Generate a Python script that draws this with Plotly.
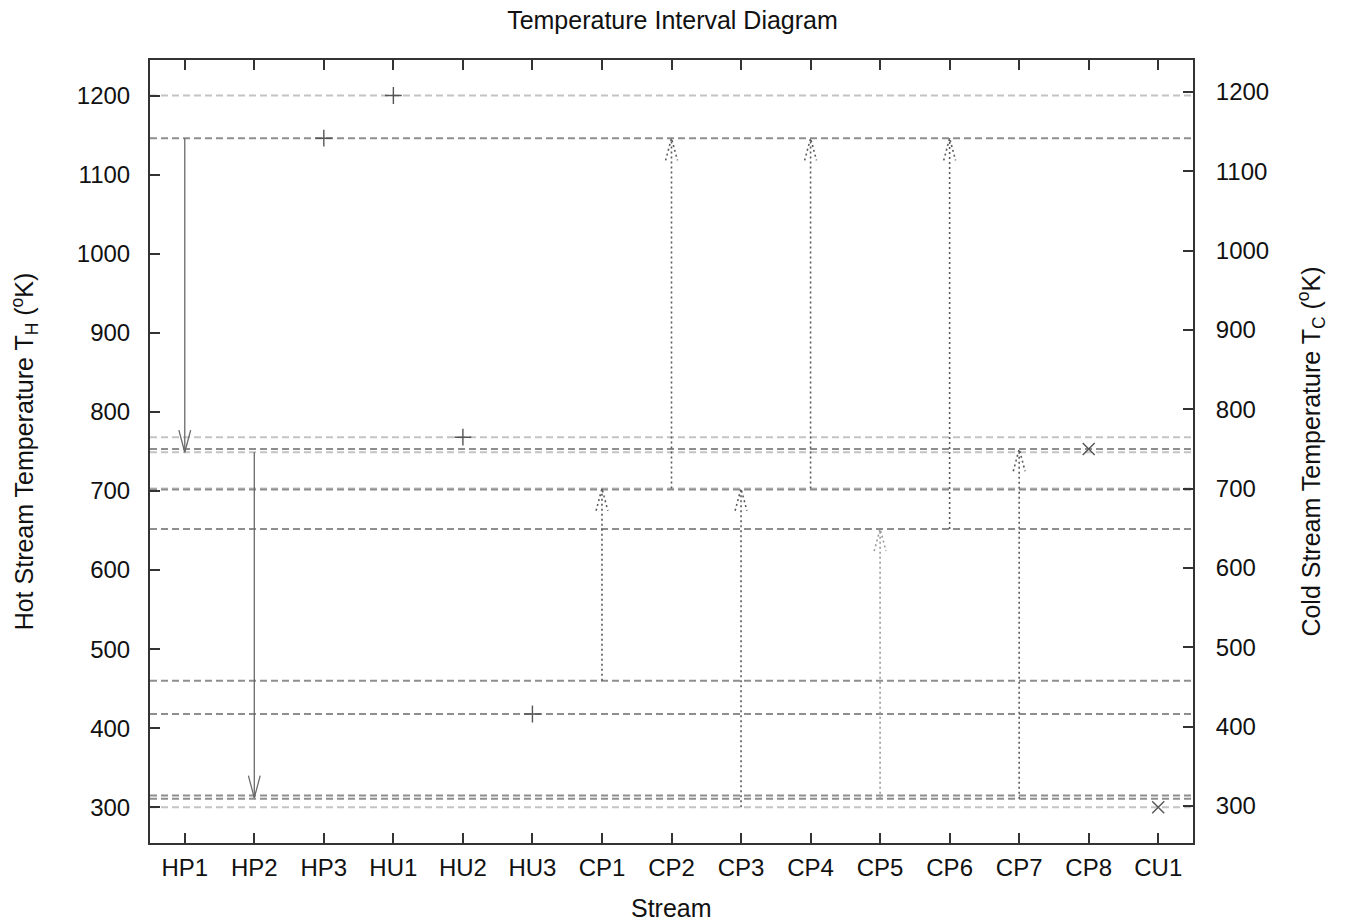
import plotly.graph_objects as go

# ---------------- data ----------------
streams = ["HP1", "HP2", "HP3", "HU1", "HU2", "HU3", "CP1", "CP2",
           "CP3", "CP4", "CP5", "CP6", "CP7", "CP8", "CU1"]

# hot streams drawn as downward arrows (supply -> target)
hot_arrow_streams = ["HP1", "HP2"]
hot_arrow_from = [1146, 749]
hot_arrow_to = [749, 312]

# hot single-temperature streams (+ markers)
hot_point_streams = ["HP3", "HU1", "HU2", "HU3"]
hot_point_temps = [1146, 1200, 768, 418]

# cold streams drawn as upward dotted arrows
cold_arrow_streams = ["CP1", "CP2", "CP3", "CP4", "CP5", "CP6", "CP7"]
cold_arrow_from = [460, 703, 300, 703, 311, 652, 311]
cold_arrow_to = [703, 1146, 703, 1146, 652, 1146, 753]
cold_arrow_light = [False, False, False, False, True, False, False]

# cold single-temperature streams (x markers)
cold_point_streams = ["CP8", "CU1"]
cold_point_temps = [753, 300]

# temperature interval boundaries
interval_light = [1200, 768, 749, 703, 300]
interval_dark = [1146, 753, 702, 652, 460, 418, 315, 311]

ticks_T = [300, 400, 500, 600, 700, 800, 900, 1000, 1100, 1200]

# ---------------- styling constants ----------------
FONT = "Liberation Sans, Arial, sans-serif"
FS = 24
FT = 25
XMIN, XMAX = -0.5, len(streams) - 0.5
HEAD_DX = 0.085   # half width of arrow heads in category units
HEAD_DY = 28      # arrow head length in temperature units

idx = {s: i for i, s in enumerate(streams)}
fig = go.Figure()


def hlines(vals, color):
    xs, ys = [], []
    for v in vals:
        xs += [XMIN, XMAX, None]
        ys += [v, v, None]
    fig.add_trace(go.Scatter(x=xs, y=ys, mode="lines", hoverinfo="skip",
                             line=dict(color=color, width=2, dash="7px,4px"),
                             showlegend=False))


hlines(interval_light, "#c4c4c4")
hlines(interval_dark, "#8e8e8e")


def arrows(names, y0s, y1s, color, dash, width):
    xs, ys, hx, hy = [], [], [], []
    for n, a, b in zip(names, y0s, y1s):
        x = idx[n]
        xs += [x, x, None]
        ys += [a, b, None]
        d = HEAD_DY if b < a else -HEAD_DY
        hx += [x - HEAD_DX, x, x + HEAD_DX, None]
        hy += [b + d, b, b + d, None]
    fig.add_trace(go.Scatter(x=xs, y=ys, mode="lines", hoverinfo="skip",
                             line=dict(color=color, width=width, dash=dash),
                             showlegend=False))
    fig.add_trace(go.Scatter(x=hx, y=hy, mode="lines", hoverinfo="skip",
                             line=dict(color=color, width=width, dash=dash),
                             showlegend=False))


arrows(hot_arrow_streams, hot_arrow_from, hot_arrow_to, "#6a6a6a", "solid", 1.3)

dark_c = [(n, a, b) for n, a, b, l in zip(cold_arrow_streams, cold_arrow_from,
                                         cold_arrow_to, cold_arrow_light) if not l]
light_c = [(n, a, b) for n, a, b, l in zip(cold_arrow_streams, cold_arrow_from,
                                          cold_arrow_to, cold_arrow_light) if l]
arrows([c[0] for c in dark_c], [c[1] for c in dark_c], [c[2] for c in dark_c],
       "#5a5a5a", "2px,3px", 1.6)
arrows([c[0] for c in light_c], [c[1] for c in light_c], [c[2] for c in light_c],
       "#9a9a9a", "2px,3px", 1.6)

fig.add_trace(go.Scatter(x=[idx[s] for s in hot_point_streams], y=hot_point_temps,
                         mode="markers", hoverinfo="skip", showlegend=False,
                         marker=dict(symbol="cross-thin-open", size=12, color="#555555",
                                     line=dict(color="#555555", width=1.4))))
fig.add_trace(go.Scatter(x=[idx[s] for s in cold_point_streams], y=cold_point_temps,
                         mode="markers", hoverinfo="skip", showlegend=False,
                         marker=dict(symbol="x-thin-open", size=12, color="#555555",
                                     line=dict(color="#555555", width=1.4))))

# dummy trace to activate the right-hand (cold) axis
fig.add_trace(go.Scatter(x=[0], y=[300], yaxis="y2", mode="markers",
                         marker=dict(opacity=0), hoverinfo="skip", showlegend=False))

axis_common = dict(ticks="inside", ticklen=10, tickwidth=2, tickcolor="#333333",
                   showline=True, linecolor="#333333", linewidth=2,
                   showgrid=False, zeroline=False,
                   tickfont=dict(family=FONT, size=FS, color="#111111"))

fig.update_layout(
    width=1345, height=922,
    margin=dict(l=150, r=152, t=60, b=79),
    plot_bgcolor="white", paper_bgcolor="white",
    font=dict(family=FONT, size=FS, color="#111111"),
    title=dict(text="Temperature Interval Diagram", x=0.5, xanchor="center",
               y=0.978, yanchor="middle",
               font=dict(family=FONT, size=FT, color="#111111")),
    xaxis=dict(range=[XMIN, XMAX], tickvals=list(range(len(streams))),
               ticktext=streams, mirror="ticks", ticklabelstandoff=2,
               automargin=False, **axis_common),
    yaxis=dict(range=[254.9, 1244.9], tickvals=ticks_T, mirror=True,
               ticklabelstandoff=13,
               title=dict(text="Hot Stream Temperature T<sub>H</sub> (<sup>o</sup>K)",
                          standoff=36, font=dict(family=FONT, size=FT)),
               **axis_common),
    yaxis2=dict(range=[253.4, 1240.3], tickvals=ticks_T, overlaying="y",
                side="right", ticklabelstandoff=16,
                title=dict(text="Cold Stream Temperature T<sub>C</sub> (<sup>o</sup>K)",
                           standoff=34, font=dict(family=FONT, size=FT)),
                **axis_common),
    annotations=[dict(text="Stream", xref="paper", yref="paper", x=0.5, y=0,
                      xanchor="center", yanchor="middle", yshift=-65,
                      showarrow=False, font=dict(family=FONT, size=FT, color="#111111"))],
)

fig.write_html("out.html")
